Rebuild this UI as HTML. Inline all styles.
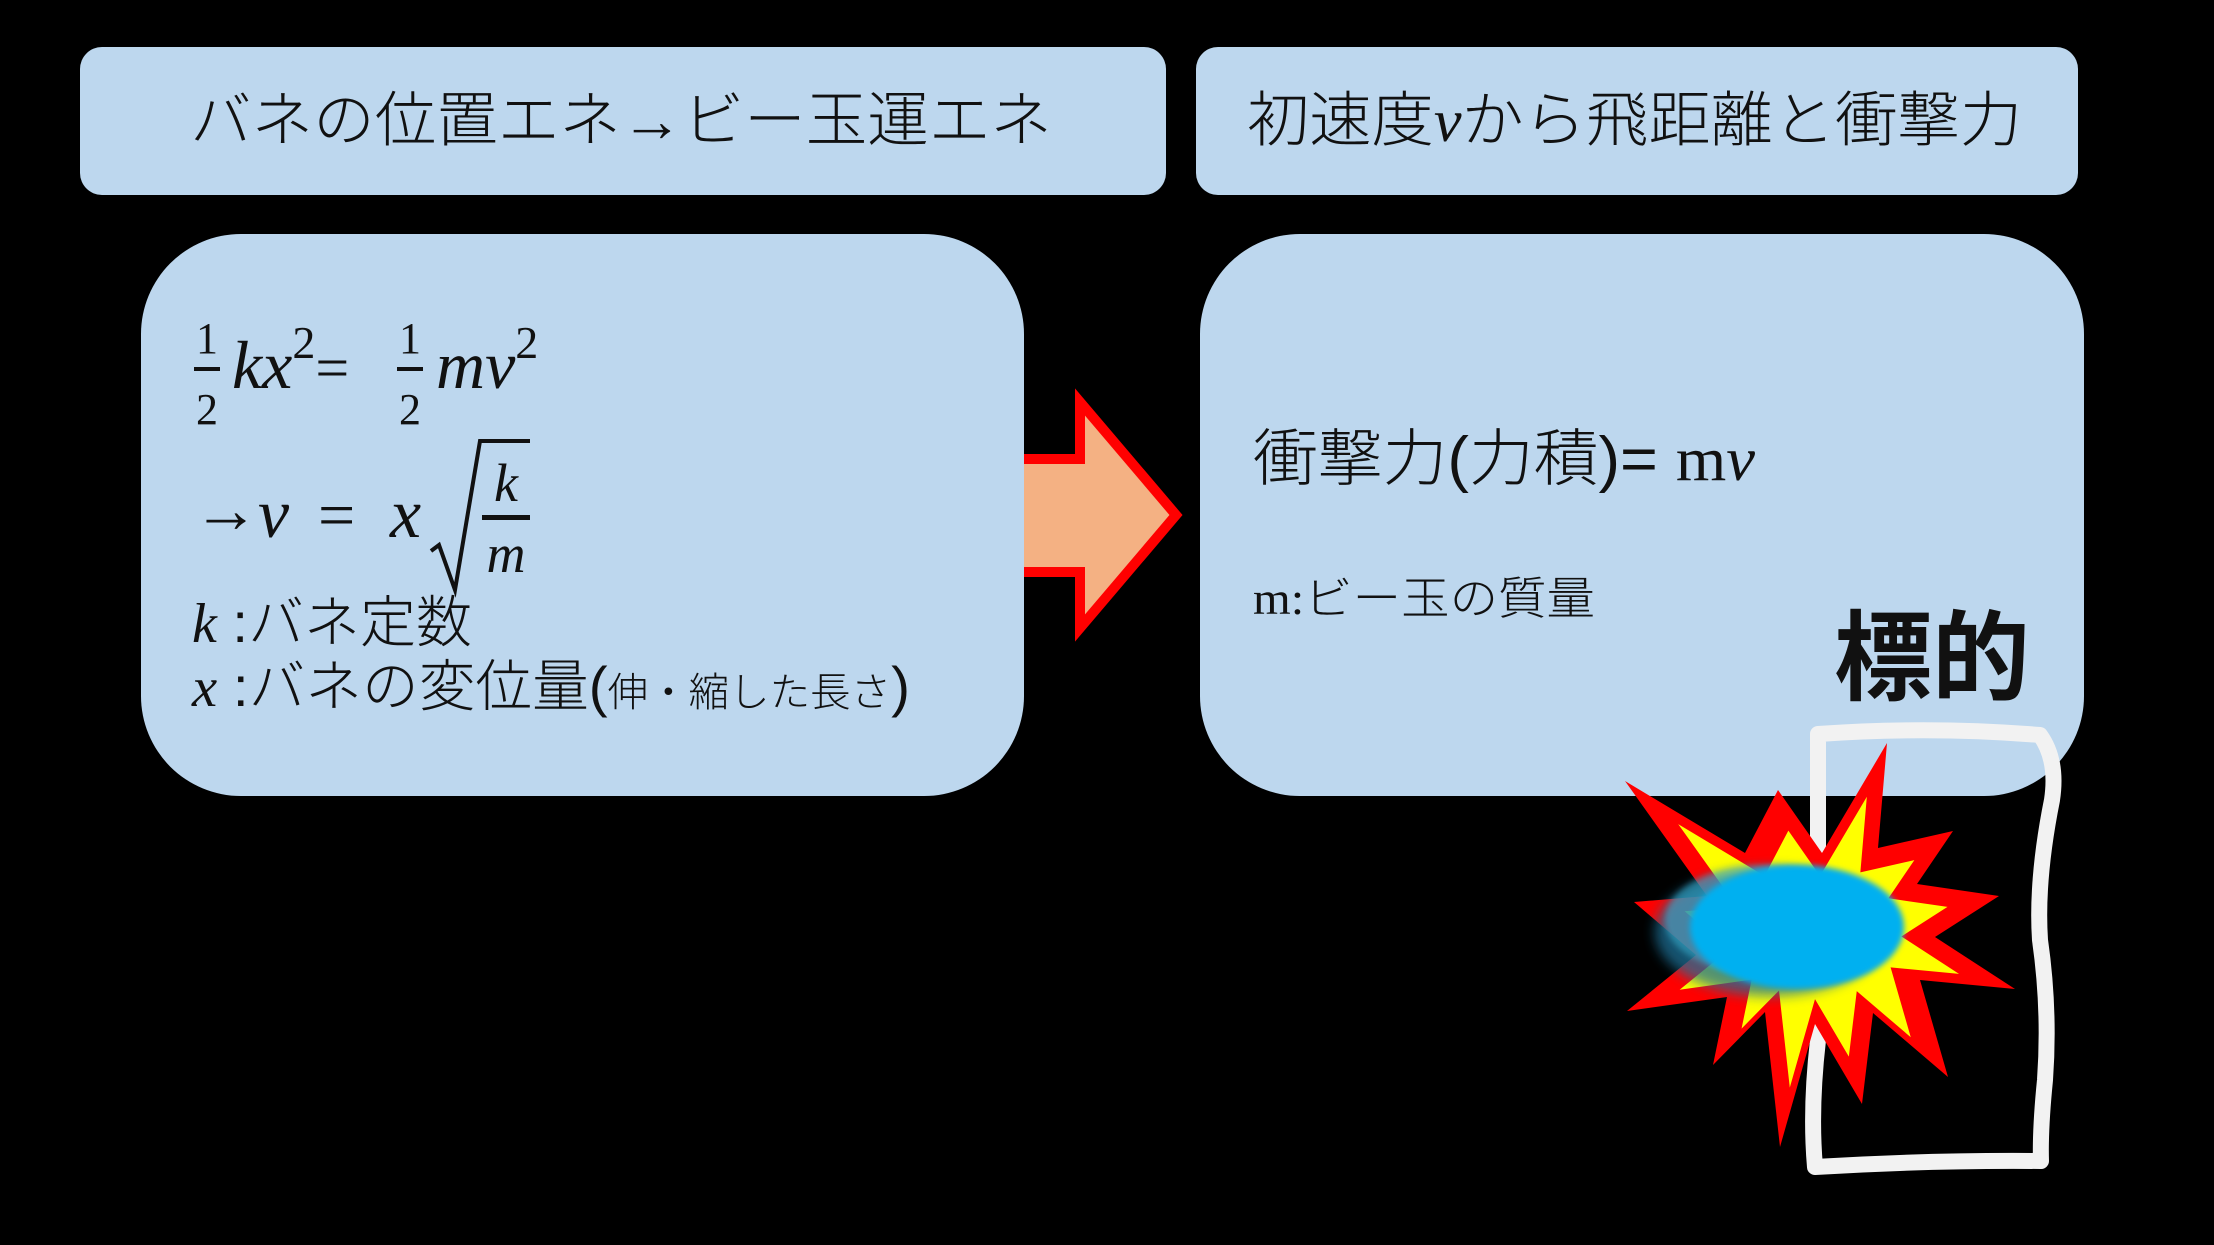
<!DOCTYPE html>
<html><head><meta charset="utf-8">
<style>
html,body{margin:0;padding:0;background:#000;}
svg{display:block;}
.jp{font-family:"Liberation Sans","Noto Sans CJK JP",sans-serif;font-weight:300;}
.m{font-family:"Liberation Serif","DejaVu Serif",serif;font-style:italic;}
.r{font-family:"Liberation Serif","DejaVu Serif",serif;}
</style></head>
<body>
<svg width="2214" height="1245" viewBox="0 0 2214 1245" xmlns="http://www.w3.org/2000/svg">
<defs>
<filter id="bl" x="-50%" y="-50%" width="200%" height="200%"><feGaussianBlur stdDeviation="6"/></filter>
<filter id="bl2" x="-50%" y="-50%" width="200%" height="200%"><feGaussianBlur stdDeviation="3"/></filter>
</defs>
<rect x="0" y="0" width="2214" height="1245" fill="#000"/>

<!-- arrow -->
<polygon points="1005,459 1080,459 1080,402 1176,515 1080,628 1080,572 1005,572" fill="#f4b183" stroke="#ff0000" stroke-width="10"/>

<!-- boxes -->
<rect x="80" y="47" width="1086" height="148" rx="22" fill="#bdd7ee"/>
<rect x="1196" y="47" width="882" height="148" rx="22" fill="#bdd7ee"/>
<rect x="141" y="234" width="883" height="562" rx="100" fill="#bdd7ee"/>
<rect x="1200" y="234" width="884" height="562" rx="100" fill="#bdd7ee"/>

<!-- titles -->
<text class="jp" x="190" y="141" font-size="60" fill="#111" textLength="862" lengthAdjust="spacingAndGlyphs">バネの位置エネ→ビー玉運エネ</text>
<text x="1247" y="141" font-size="60" fill="#111" textLength="775" lengthAdjust="spacingAndGlyphs"><tspan class="jp">初速度</tspan><tspan class="m">v</tspan><tspan class="jp">から飛距離と衝撃力</tspan></text>

<!-- left formulas -->
<g fill="#111">
<text class="r" x="207" y="353" font-size="44" text-anchor="middle">1</text>
<rect x="194" y="367" width="26" height="4"/>
<text class="r" x="207" y="424" font-size="44" text-anchor="middle">2</text>
<text x="232" y="388" font-size="68"><tspan class="m">kx</tspan><tspan class="r" font-size="46" dy="-30">2</tspan><tspan class="r" dy="30" font-size="60">=</tspan></text>
<text class="r" x="410" y="353" font-size="44" text-anchor="middle">1</text>
<rect x="397" y="367" width="26" height="4"/>
<text class="r" x="410" y="424" font-size="44" text-anchor="middle">2</text>
<text x="436" y="388" font-size="68"><tspan class="m">mv</tspan><tspan class="r" font-size="46" dy="-30">2</tspan></text>

<text class="r" x="193" y="532" font-size="66">→</text>
<text class="m" x="258" y="537" font-size="70">v</text>
<text class="r" x="318" y="537" font-size="66">=</text>
<text class="m" x="390" y="537" font-size="70">x</text>
<polyline points="431,551 439,545 455,590 480,441 530,441" fill="none" stroke="#111" stroke-width="4"/>
<text class="m" x="506" y="501" font-size="54" text-anchor="middle">k</text>
<rect x="482" y="515" width="48" height="5"/>
<text class="m" x="506" y="572" font-size="54" text-anchor="middle">m</text>

<text x="192" y="642" font-size="56"><tspan class="m">k</tspan><tspan class="jp"> :バネ定数</tspan></text>
<text x="192" y="706" font-size="56" textLength="718" lengthAdjust="spacingAndGlyphs"><tspan class="m">x</tspan><tspan class="jp"> :バネの変位量(</tspan><tspan class="jp" font-size="40">伸・縮した長さ</tspan><tspan class="jp">)</tspan></text>
</g>

<!-- right content -->
<text x="1253" y="480" font-size="62" fill="#111" textLength="502" lengthAdjust="spacingAndGlyphs"><tspan class="jp">衝撃力(力積)= </tspan><tspan class="r">m</tspan><tspan class="m">v</tspan></text>
<text x="1253" y="614" font-size="45" fill="#111" textLength="342" lengthAdjust="spacingAndGlyphs"><tspan class="r">m:</tspan><tspan class="jp">ビー玉の質量</tspan></text>
<text x="1834" y="692" font-size="98" font-weight="bold" fill="#111" font-family="'Liberation Sans','Noto Sans CJK JP',sans-serif">標的</text>

<!-- target frame -->
<path d="M1818,734 Q1930,726 2040,735 Q2058,760 2052,800 Q2036,880 2040,940 Q2050,1010 2045,1080 Q2040,1130 2041,1161 Q1930,1160 1815,1167 Q1810,1110 1818,1040 Q1822,980 1818,900 Z" fill="none" stroke="#f2f2f2" stroke-width="16" stroke-linejoin="round"/>

<!-- explosion -->
<polygon id="st" points="1625,781 1745,853 1778,790 1822,853 1887,743 1878,848 1953,831 1917,884 1999,896 1935,937 2015,989 1920,980 1948,1077 1873,1013 1862,1104 1815,1024 1780,1147 1765,1012 1713,1065 1727,997 1627,1011 1696,955 1634,902 1707,896" fill="#ff0000"/>
<polygon points="1625,781 1745,853 1778,790 1822,853 1887,743 1878,848 1953,831 1917,884 1999,896 1935,937 2015,989 1920,980 1948,1077 1873,1013 1862,1104 1815,1024 1780,1147 1765,1012 1713,1065 1727,997 1627,1011 1696,955 1634,902 1707,896" fill="#ffff00" transform="translate(1815 935) scale(0.72) translate(-1815 -935)"/>

<!-- ball -->
<ellipse cx="1770" cy="932" rx="115" ry="64" fill="#1a6f95" opacity="0.75" filter="url(#bl)"/>
<ellipse cx="1765" cy="920" rx="100" ry="55" fill="#3bb5d8" opacity="0.5" filter="url(#bl2)"/>
<ellipse cx="1797" cy="927" rx="107" ry="62" fill="#00b0f0" filter="url(#bl2)"/>
</svg>
</body></html>
